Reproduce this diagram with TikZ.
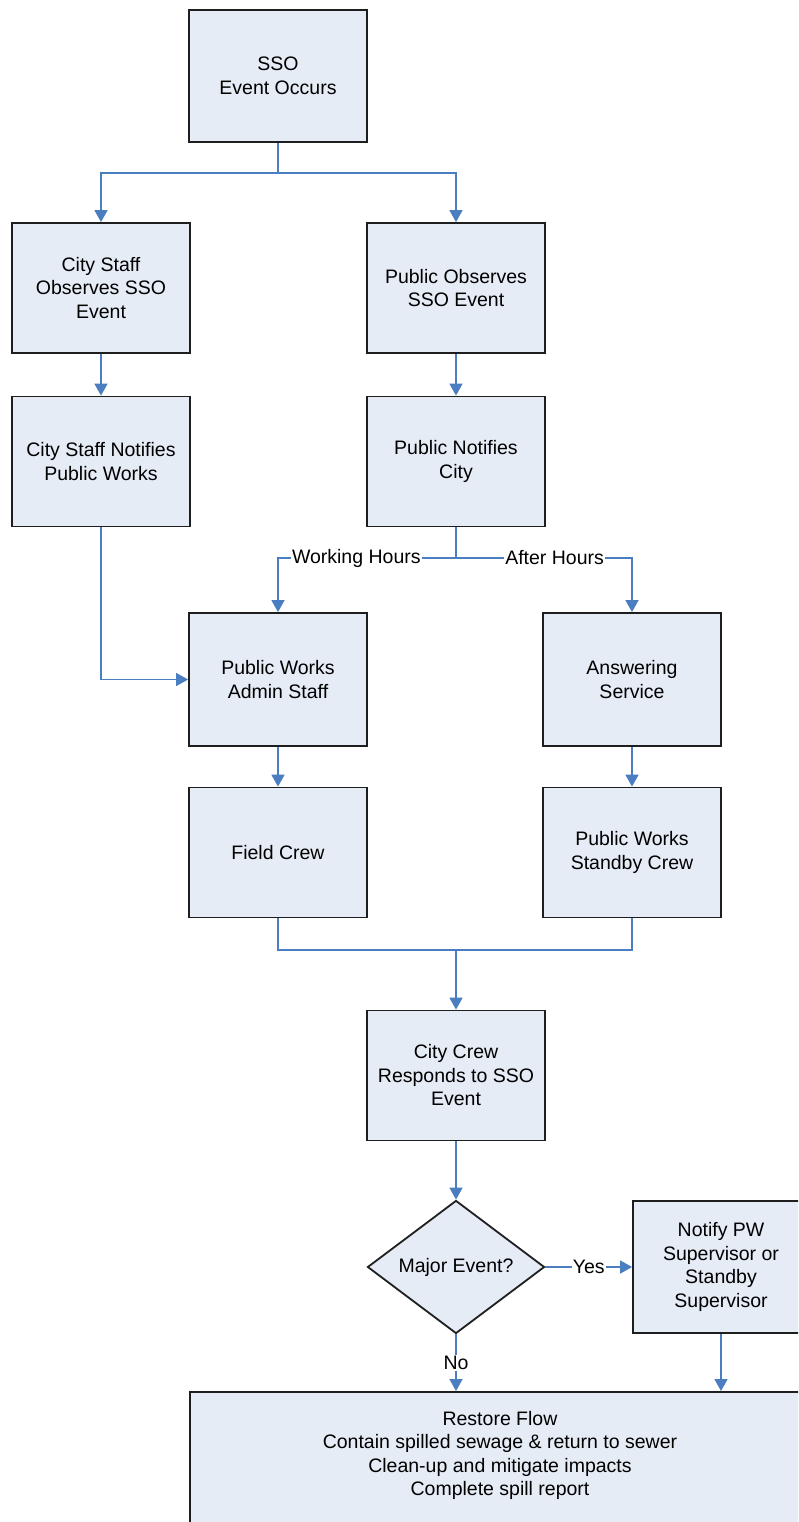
\documentclass[tikz,border=0pt]{standalone}
\usepackage{fontspec}
\setmainfont{Liberation Sans}
\usetikzlibrary{arrows.meta,shapes.geometric}
\definecolor{boxfill}{HTML}{E6ECF6}
\definecolor{linkblue}{HTML}{4A7EC1}
\definecolor{boxline}{HTML}{1E1E1E}
\begin{document}
\begin{tikzpicture}[x=1pt,y=-1pt,
  font=\fontsize{19.5}{23.5}\selectfont,
  flowbox/.style={draw=boxline,line width=1.8pt,fill=boxfill,minimum width=178pt,minimum height=130pt,inner sep=0pt,align=center},
  decision/.style={diamond,draw=boxline,line width=1.8pt,fill=boxfill,minimum width=177pt,minimum height=129pt,inner sep=0pt,align=center},
  link/.style={draw=linkblue,line width=1.6pt},
  arrowlink/.style={link,-{Triangle[length=12pt,width=13pt]}},
  lbl/.style={fill=white,inner sep=1pt,text=black}]
\useasboundingbox (0,0) rectangle (798,1522);
\clip (0,0) rectangle (798,1522);
\fill[white] (0,0) rectangle (798,1522);

\node[flowbox,minimum height=132pt] (sso) at (278,76) {SSO\\Event Occurs};
\node[flowbox] (cso) at (101,288) {City Staff\\Observes SSO\\Event};
\node[flowbox] (pso) at (456,288) {Public Observes\\SSO Event};
\node[flowbox] (csn) at (101,461.5) {City Staff Notifies\\Public Works};
\node[flowbox] (pnc) at (456,461.5) {Public Notifies\\City};
\node[flowbox,minimum height=133pt] (pwa) at (278,679.5) {Public Works\\Admin Staff};
\node[flowbox,minimum height=133pt] (ans) at (632,679.5) {Answering\\Service};
\node[flowbox] (fc) at (278,852.5) {Field Crew};
\node[flowbox] (sbc) at (632,852.5) {Public Works\\Standby Crew};
\node[flowbox] (ccr) at (456,1075.5) {City Crew\\Responds to SSO\\Event};
\node[decision] (maj) at (456,1267) {Major Event?};
\node[flowbox,minimum width=176pt,minimum height=132pt] (notify) at (721,1267) {Notify PW\\Supervisor or\\Standby\\Supervisor};
\node[flowbox,minimum width=620pt,minimum height=150pt,anchor=north] (restore) at (500,1391) {\begin{tabular}{@{}c@{}}Restore Flow\\Contain spilled sewage \& return to sewer\\Clean-up and mitigate impacts\\Complete spill report\end{tabular}\rule[-64pt]{0pt}{64pt}};

\coordinate (split1) at (278,173);
\coordinate (split2) at (456,558);
\coordinate (merge) at (456,950);

\draw[link] (sso) -- (split1);
\draw[arrowlink] (split1) -| (cso);
\draw[arrowlink] (split1) -| (pso);
\draw[arrowlink] (cso) -- (csn);
\draw[arrowlink] (pso) -- (pnc);
\draw[link] (pnc) -- (split2);
\draw[arrowlink] (split2) -| node[lbl,pos=0.28] {Working Hours} (pwa);
\draw[arrowlink] (split2) -| node[lbl,pos=0.28] {After Hours} (ans);
\draw[arrowlink] (csn) |- (pwa);
\draw[arrowlink] (pwa) -- (fc);
\draw[arrowlink] (ans) -- (sbc);
\draw[link] (fc) |- (merge);
\draw[link] (sbc) |- (merge);
\draw[arrowlink] (merge) -- (ccr);
\draw[arrowlink] (ccr) -- (maj);
\draw[arrowlink] (maj) -- node[lbl] {Yes} (notify);
\draw[arrowlink] (maj.south) -- node[lbl] {No} (maj.south |- restore.north);
\draw[arrowlink] (notify) -- (notify.south |- restore.north);
\end{tikzpicture}
\end{document}
